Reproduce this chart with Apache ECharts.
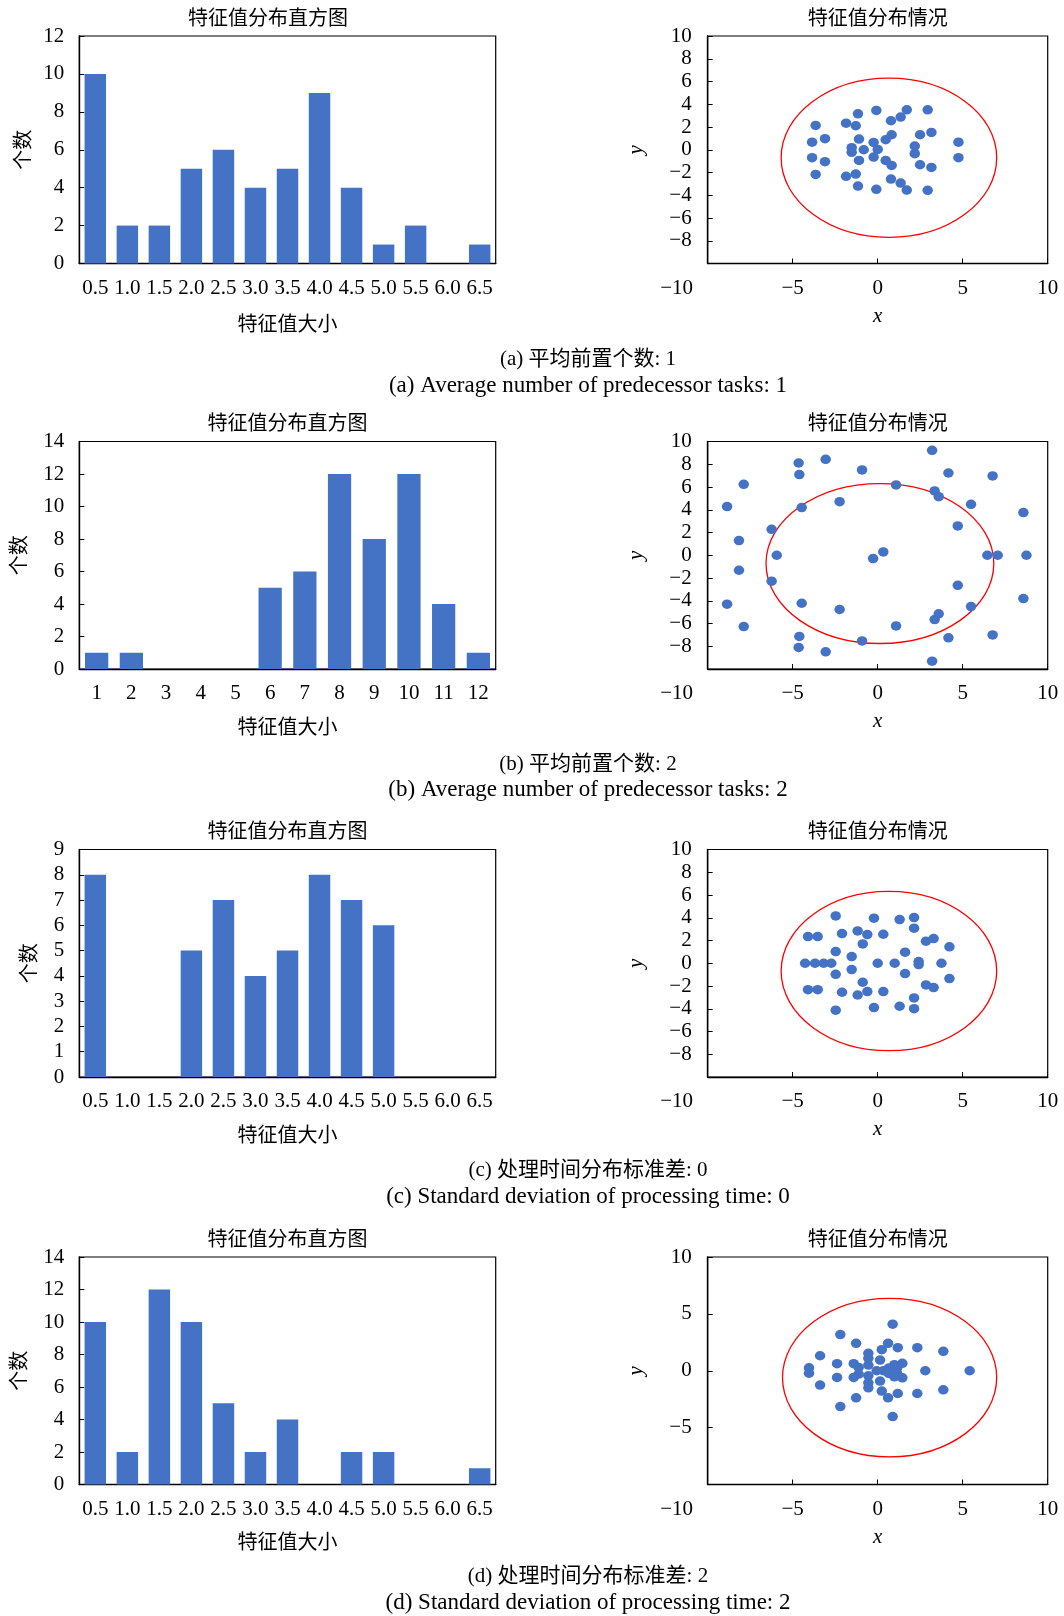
<!DOCTYPE html>
<html>
<head>
<meta charset="utf-8">
<script src="https://cdn.jsdelivr.net/npm/echarts@6/dist/echarts.min.js"></script>
<style>
  html, body { margin: 0; padding: 0; background: #fff; }
  #chart { width: 1064px; height: 1616px; }
</style>
</head>
<body>
<div id="chart"></div>
<script>
// ---- Histogram data: feature value bins and counts ----
const binsHalf = ['0.5', '1.0', '1.5', '2.0', '2.5', '3.0', '3.5', '4.0', '4.5', '5.0', '5.5', '6.0', '6.5'];
const binsInt = ['1', '2', '3', '4', '5', '6', '7', '8', '9', '10', '11', '12'];
const countsA = [10, 2, 2, 5, 6, 4, 5, 9, 4, 1, 2, 0, 1];
const countsB = [1, 1, 0, 0, 0, 5, 6, 12, 8, 12, 4, 1];
const countsC = [8, 0, 0, 5, 7, 4, 5, 8, 7, 6, 0, 0, 0];
const countsD = [10, 2, 12, 10, 5, 2, 4, 0, 2, 2, 0, 0, 1];

// ---- Eigenvalue scatter points [x, y] ----
const pointsA = [
  [-3.65, 2.14], [-3.86, 0.67], [-3.10, 0.97], [-3.86, -0.70], [-3.10, -1.05], [-3.65, -2.17],
  [-1.86, 2.34], [-1.16, 3.16], [-1.29, 2.11], [-1.10, 0.94], [-1.53, 0.18], [-1.53, -0.23],
  [-0.82, 0.0], [-1.10, -0.94], [-1.29, -2.14], [-1.86, -2.34], [-1.16, -3.19],
  [-0.08, 3.46], [-0.24, 0.64], [0.0, 0.03], [-0.24, -0.64], [-0.08, -3.48],
  [0.47, 0.88], [0.82, 1.32], [0.78, 2.55], [1.35, 2.87], [1.71, 3.51],
  [0.47, -0.94], [0.82, -1.38], [0.78, -2.58], [1.35, -2.93], [1.71, -3.54],
  [2.18, 0.32], [2.18, -0.35], [2.49, 1.32], [2.49, -1.32], [3.16, 1.52], [3.16, -1.55],
  [2.94, 3.51], [2.94, -3.57], [4.75, 0.67], [4.75, -0.70]
];
const pointsB = [
  [3.20, 9.22], [-4.65, 8.11], [-3.06, 8.43], [-4.61, 7.09], [-0.92, 7.50], [4.16, 7.23],
  [6.76, 6.97], [-7.88, 6.24], [1.08, 6.18], [3.35, 5.65], [3.59, 5.15], [-8.86, 4.28],
  [-4.47, 4.19], [-2.24, 4.71], [5.49, 4.48], [8.57, 3.75], [-6.24, 2.28], [4.71, 2.58],
  [-8.16, 1.29], [-5.94, 0.0], [0.33, 0.29], [-0.27, -0.29], [6.45, 0.0], [7.06, 0.0],
  [8.75, 0.0], [-8.16, -1.32], [-6.24, -2.28], [4.71, -2.64], [-8.86, -4.30], [-4.47, -4.22],
  [-2.24, -4.77], [5.49, -4.51], [8.57, -3.81], [3.59, -5.15], [3.35, -5.65], [-7.88, -6.27],
  [1.08, -6.21], [-4.61, -7.14], [-4.65, -8.11], [-3.06, -8.49], [-0.92, -7.53], [4.16, -7.26],
  [6.76, -7.00], [3.20, -9.31]
];
const pointsC = [
  [-2.47, 4.16], [-0.22, 3.96], [1.29, 3.84], [2.14, 4.02], [2.14, 3.08], [-4.10, 2.35],
  [-3.53, 2.35], [-2.10, 2.61], [-1.18, 2.84], [-0.61, 2.52], [0.33, 2.55], [-0.88, 1.70],
  [2.84, 1.94], [3.29, 2.17], [4.22, 1.44], [-2.47, 1.03], [-1.53, 0.59], [1.61, 0.97],
  [-4.27, 0.0], [-3.69, 0.0], [-3.18, 0.0], [-2.73, 0.0], [0.0, 0.0], [1.0, 0.0],
  [2.41, 0.15], [2.41, -0.12], [3.75, 0.0], [-2.47, -0.97], [-1.53, -0.56], [1.61, -0.91],
  [-0.88, -1.67], [-4.10, -2.32], [-3.53, -2.32], [-2.10, -2.55], [-1.18, -2.79], [-0.61, -2.49],
  [0.33, -2.49], [2.84, -1.91], [3.29, -2.14], [4.22, -1.35], [-2.47, -4.13], [-0.22, -3.90],
  [1.29, -3.78], [2.14, -3.99], [2.14, -3.05]
];
const pointsD = [
  [0.88, 4.09], [-2.20, 3.18], [-1.27, 2.41], [0.61, 2.41], [1.18, 2.03], [2.33, 2.03],
  [3.86, 1.71], [0.24, 1.85], [-3.39, 1.32], [-0.55, 1.53], [-0.55, 1.09], [0.14, 0.94],
  [-2.39, 0.62], [-1.41, 0.62], [-0.55, 0.50], [-1.12, 0.29], [1.45, 0.65], [0.98, 0.53],
  [-4.04, 0.26], [-4.04, -0.21], [-0.06, 0.0], [0.33, 0.0], [0.65, 0.24], [0.65, -0.24],
  [1.02, 0.0], [1.14, 0.24], [1.14, -0.24], [2.80, 0.0], [5.41, 0.0], [-1.12, -0.29],
  [-2.39, -0.59], [-1.41, -0.59], [-0.55, -0.44], [0.98, -0.53], [1.45, -0.62], [0.14, -0.91],
  [-0.55, -1.06], [-0.55, -1.50], [-3.39, -1.26], [0.24, -1.79], [1.18, -2.00], [2.33, -2.00],
  [3.86, -1.68], [-1.27, -2.38], [0.61, -2.38], [-2.20, -3.15], [0.88, -4.03]
];

// ---- Reference ellipses: [centerX, centerY, radiusX, radiusY] ----
const ellipseA = [0.66, -0.70, 6.34, 7.0];
const ellipseB = [0.13, -0.73, 6.70, 7.03];
const ellipseC = [0.66, -0.69, 6.34, 7.0];
const ellipseD = [0.70, -0.60, 6.30, 6.97];

// ---- Axis settings ----
const histMax = [12, 14, 9, 14];
const histStep = [2, 2, 1, 2];
const scatterYStep = [2, 2, 2, 5];

// ---- Text ----
const histTitle = '特征值分布直方图';
const scatterTitle = '特征值分布情况';
const histXName = '特征值大小';
const histYName = '个数';
const captionsZh = ['(a) 平均前置个数: 1', '(b) 平均前置个数: 2', '(c) 处理时间分布标准差: 0', '(d) 处理时间分布标准差: 2'];
const captionsEn = [
  '(a) Average number of predecessor tasks: 1',
  '(b) Average number of predecessor tasks: 2',
  '(c) Standard deviation of processing time: 0',
  '(d) Standard deviation of processing time: 2'
];

const histCats = [binsHalf, binsInt, binsHalf, binsHalf];
const histCounts = [countsA, countsB, countsC, countsD];
const scatterPts = [pointsA, pointsB, pointsC, pointsD];
const ellipses = [ellipseA, ellipseB, ellipseC, ellipseD];

// ---- Layout ----
const SERIF = '"Liberation Serif", "Noto Sans CJK SC", serif';
const CJK = '"Noto Sans CJK SC", sans-serif';
const BLUE = '#4472C4';
const rowTop = [36, 441.5, 849.5, 1257];
const plotH = 227.5;
const histLeft = 79.3, histW = 416.4;
const scLeft = 707.7, scW = 340;
const histYNameGap = [47, 51, 41, 51];
const histXNameGap = [50, 47, 47, 47];
const histTitleX = [268, 287.5, 287.5, 287.5];
const captionX = 588;
const captionZhY = [359, 764, 1170, 1576];
const captionEnY = [385.6, 790, 1197, 1603];

const minus = v => String(v).replace('-', '\u2212');

const grids = [], xAxes = [], yAxes = [], series = [], graphics = [];

for (let r = 0; r < 4; r++) {
  // histogram panel
  grids.push({ left: histLeft, top: rowTop[r], width: histW, height: plotH,
    show: true, borderColor: '#000', borderWidth: 1.2, backgroundColor: 'transparent' });
  xAxes.push({
    type: 'category', gridIndex: 2 * r, data: histCats[r],
    axisLine: { lineStyle: { color: '#000', width: 1.4 } },
    axisTick: { show: false },
    axisLabel: { interval: 0, margin: 14, color: '#000', fontFamily: SERIF, fontSize: 21 },
    name: histXName, nameLocation: 'middle', nameGap: histXNameGap[r],
    nameTextStyle: { fontFamily: CJK, fontSize: 20, color: '#000' }
  });
  yAxes.push({
    type: 'value', gridIndex: 2 * r, min: 0, max: histMax[r], interval: histStep[r],
    axisLine: { show: true, lineStyle: { color: '#000', width: 1.4 } },
    axisTick: { show: true, inside: true, length: 5, lineStyle: { color: '#000' } },
    splitLine: { show: false },
    axisLabel: { margin: 15, color: '#000', fontFamily: SERIF, fontSize: 21 },
    name: histYName, nameLocation: 'middle', nameRotate: 90, nameGap: histYNameGap[r],
    nameTextStyle: { fontFamily: CJK, fontSize: 20, color: '#000' }
  });
  series.push({
    type: 'bar', xAxisIndex: 2 * r, yAxisIndex: 2 * r, data: histCounts[r],
    barCategoryGap: '33%', itemStyle: { color: BLUE }, silent: true
  });

  // scatter panel
  grids.push({ left: scLeft, top: rowTop[r], width: scW, height: plotH,
    show: true, borderColor: '#000', borderWidth: 1.2, backgroundColor: 'transparent' });
  xAxes.push({
    type: 'value', gridIndex: 2 * r + 1, min: -10, max: 10, interval: 5,
    axisLine: { onZero: false, lineStyle: { color: '#000', width: 1.4 } },
    axisTick: { show: true, inside: true, length: 5, lineStyle: { color: '#000' } },
    splitLine: { show: false },
    axisLabel: {
      margin: 14, color: '#000', fontFamily: SERIF, fontSize: 21,
      showMinLabel: true, showMaxLabel: true,
      formatter: v => (v === -10 ? '{s|' + minus(v) + '}' : minus(v)),
      rich: { s: { fontFamily: SERIF, fontSize: 21, color: '#000', padding: [0, 62, 0, 0] } }
    },
    name: 'x', nameLocation: 'middle', nameGap: 42,
    nameTextStyle: { fontFamily: SERIF, fontStyle: 'italic', fontSize: 21, color: '#000' }
  });
  yAxes.push({
    type: 'value', gridIndex: 2 * r + 1, min: -10, max: 10, interval: scatterYStep[r],
    axisLine: { show: true, onZero: false, lineStyle: { color: '#000', width: 1.4 } },
    axisTick: { show: true, inside: true, length: 5, lineStyle: { color: '#000' } },
    splitLine: { show: false },
    axisLabel: {
      margin: 16, color: '#000', fontFamily: SERIF, fontSize: 21,
      formatter: v => (v === -10 ? '' : minus(v))
    },
    name: 'y', nameLocation: 'middle', nameRotate: 90, nameGap: 61,
    nameTextStyle: { fontFamily: SERIF, fontStyle: 'italic', fontSize: 21, color: '#000' }
  });
  series.push({
    type: 'custom', xAxisIndex: 2 * r + 1, yAxisIndex: 2 * r + 1, data: [ellipses[r]],
    silent: true, z: 2,
    renderItem: (params, api) => {
      const c = api.coord([api.value(0), api.value(1)]);
      const s = api.size([api.value(2), api.value(3)]);
      return { type: 'ellipse', shape: { cx: c[0], cy: c[1], rx: s[0], ry: s[1] },
        style: { fill: 'none', stroke: '#ff0000', lineWidth: 1.3 } };
    }
  });
  series.push({
    type: 'scatter', xAxisIndex: 2 * r + 1, yAxisIndex: 2 * r + 1, data: scatterPts[r],
    symbol: 'circle', symbolSize: [10.5, 9.5], itemStyle: { color: BLUE, opacity: 1 },
    silent: true, z: 3
  });

  // panel titles and captions
  const ty = rowTop[r] - 19;
  graphics.push({ type: 'text', x: histTitleX[r], y: ty,
    style: { text: histTitle, font: '20px ' + CJK, fill: '#000', align: 'center', verticalAlign: 'middle' } });
  graphics.push({ type: 'text', x: scLeft + scW / 2, y: ty,
    style: { text: scatterTitle, font: '20px ' + CJK, fill: '#000', align: 'center', verticalAlign: 'middle' } });
  graphics.push({ type: 'text', x: captionX, y: captionZhY[r],
    style: { text: captionsZh[r], font: '21px ' + SERIF, fill: '#000', align: 'center', verticalAlign: 'middle' } });
  graphics.push({ type: 'text', x: captionX, y: captionEnY[r],
    style: { text: captionsEn[r], font: '23px ' + SERIF, fill: '#000', align: 'center', verticalAlign: 'middle' } });
}

const chart = echarts.init(document.getElementById('chart'), null, { renderer: 'canvas' });
chart.setOption({
  animation: false,
  backgroundColor: '#fff',
  grid: grids,
  xAxis: xAxes,
  yAxis: yAxes,
  series: series,
  graphic: graphics
});
</script>
</body>
</html>
